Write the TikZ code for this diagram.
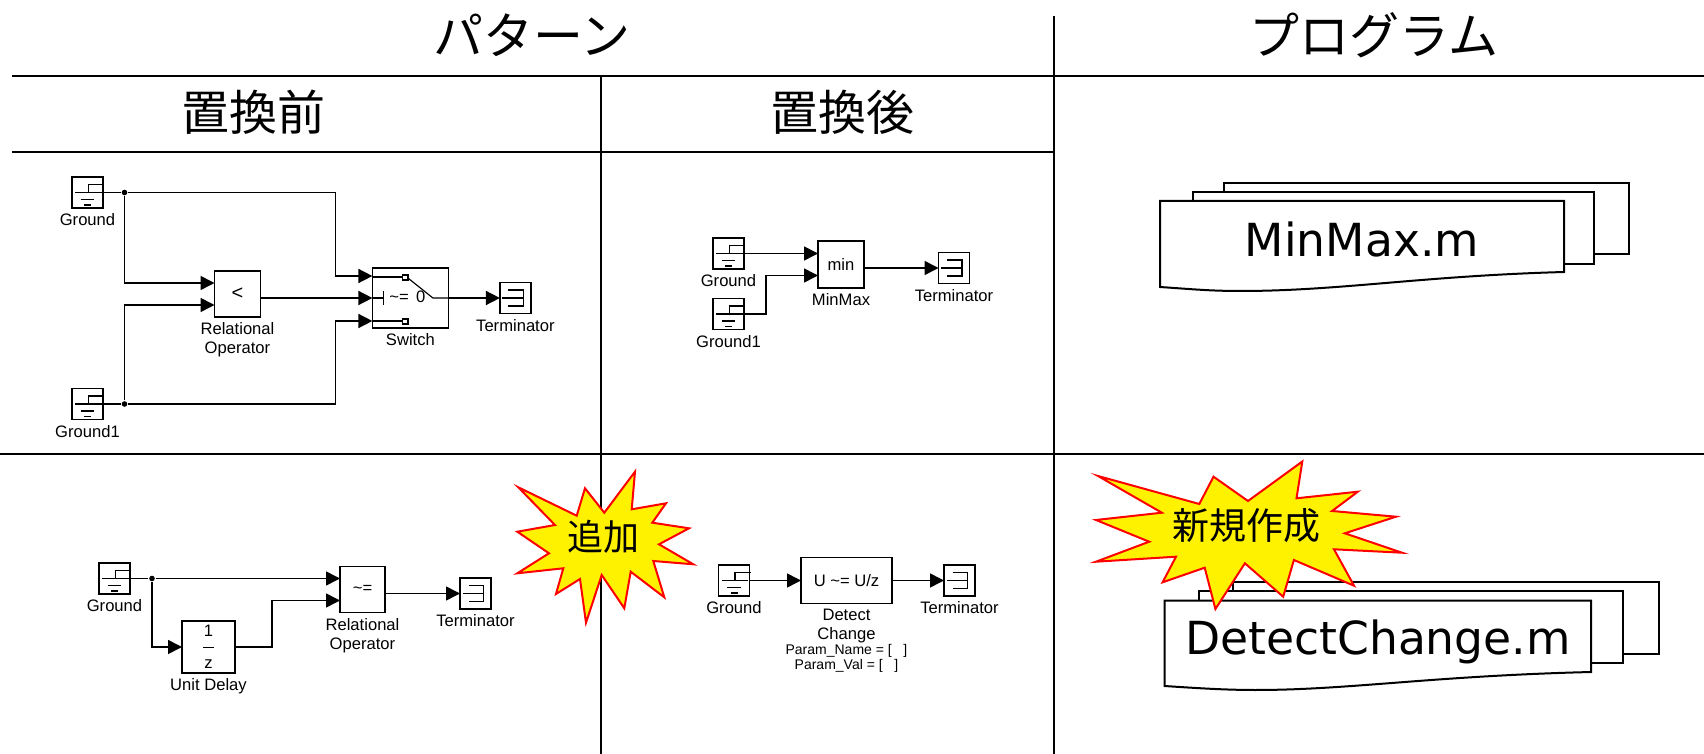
\documentclass[tikz,border=0pt]{standalone}
\usepackage{fontspec}
\setmainfont{Liberation Sans}
\newfontfamily\cjk{Noto Sans CJK JP}
\newfontfamily\docfont{DejaVu Sans}
\usetikzlibrary{arrows.meta,positioning}

\begin{document}
\begin{tikzpicture}[->,
            >={Triangle[length=7pt,width=7pt]},
            x=0.5pt,
            y=-0.5pt,
            line width=0.8pt,
            wire/.style={-},
            gridline/.style={-,line width=1pt},
            fine/.style={-,line width=0.6pt},
            lbl/.style={font=\fontsize{8.3}{9.4}\selectfont,align=center,inner sep=0pt,label distance=2.5pt},
            blockbox/.style 2 args={draw,outer sep=0pt,inner sep=0pt,align=center,
                                    minimum width=#1,minimum height=#2,
                                    font=\fontsize{8.3}{9.4}\selectfont},
            gndbox/.style={blockbox={15.5pt}{15.5pt}},
            termbox/.style={blockbox={15.5pt}{15.5pt}},
            dot/.style={circle,fill=black,inner sep=0pt,minimum size=2.8pt},
            head/.style={font=\cjk\fontsize{24}{28}\selectfont},
            kana/.style={font=\cjk\fontsize{25}{28}\selectfont},
            sheet/.style={-,draw=black,fill=white,line width=1pt},
            burst/.style={-,draw=red,fill=yellow,line width=1pt},
            docname/.style={anchor=base,inner sep=0pt,font=\docfont\fontsize{22.8}{28}\selectfont},
            gndmark/.pic={
                \draw[fine] (16.5,-8) -- (1,-8) -- (1,0);
                \draw[fine] (-12.5,0) -- (14,0);
                \draw[fine] (-7,7) -- (6.5,7);
                \draw[fine] (-3.5,12.5) -- (3.5,12.5);
            },
            termmark/.pic={
                \draw[fine] (-7,-8) -- (8,-8) -- (8,8) -- (-7,8);
                \draw[fine] (-13,0) -- (8,0);
            },
            switchmark/.pic={
                \draw[fine] (-37.5,-21) -- (-8,-21);
                \draw[fine] (-37.5,23) -- (-8,23);
                \draw[fine] (-37.5,0) -- (-26.8,0);
                \draw[fine] (-26.8,-7) -- (-26.8,7);
                \draw[fine] (-2.5,-20) -- (22.5,0) -- (38,0);
                \draw[fine,fill=white] (-8,-23) rectangle (-2.5,-18);
                \draw[fine,fill=white] (-8,21) rectangle (-2.5,26);
                \node[inner sep=0pt,font=\fontsize{8.3}{9.4}\selectfont] (cond) at (-3,-1) {\textasciitilde= \,0};
            }]

        \useasboundingbox (0,0) rectangle (1704,754);

        \draw[gridline] (12,76)    -- (1704,76);
        \draw[gridline] (12,152)   -- (1054,152);
        \draw[gridline] (0,454)    -- (1704,454);
        \draw[gridline] (1054,16)  -- (1054,754);
        \draw[gridline] (601,76)   -- (601,754);

        \node[kana] (pattern) at (532,35)   {パターン};
        \node[kana] (program) at (1374,35)  {プログラム};
        \node[head] (before)  at (253,112)  {置換前};
        \node[head] (after)   at (842,112)  {置換後};

        \node[gndbox,label={[lbl]below:Ground}]  (gnda) at (87.5,192.5) {};
        \node[gndbox,label={[lbl]below:Ground1}] (gndb) [node distance=105.75pt,below of=gnda] {};
        \node[dot] (ja) [node distance=18.5pt,right of=gnda] {};
        \node[dot] (jb) [node distance=18.5pt,right of=gndb] {};
        \node[blockbox={23pt}{23pt},font=\fontsize{10}{12}\selectfont,label={[lbl]below:Relational\\Operator}]
            (relop) [node distance=75pt,right of=gnda,yshift=-50.75pt] {<};
        \node[blockbox={38pt}{30pt},label={[lbl]below:Switch}]
            (switch) [node distance=86.45pt,right of=relop,yshift=-2pt] {};
        \node[termbox,label={[lbl]below:Terminator}]
            (terma) [node distance=52.5pt,right of=switch] {};
        \pic at (gnda)   {gndmark};
        \pic at (gndb)   {gndmark};
        \pic at (terma)  {termmark};
        \pic at (switch) {switchmark};

        \coordinate (relopi) at ([yshift=5.5pt]relop.west);
        \coordinate (relopj) at ([yshift=-5.5pt]relop.west);
        \coordinate (switchi) at ([yshift=11pt]switch.west);
        \coordinate (switchj) at ([yshift=-11.5pt]switch.west);

        \draw[wire] (gnda.east) -- (ja);
        \draw[wire] (gndb.east) -- (jb);
        \draw (ja) |- (relopi);
        \draw (jb) |- (relopj);
        \draw (ja) -| ([xshift=-18.5pt]switchi) -- (switchi);
        \draw (jb) -| ([xshift=-18.5pt]switchj) -- (switchj);
        \path (relop.east |- switch) edge (switch.west)
              (switch.east)          edge (terma.west);

        \node[gndbox,label={[lbl]below:Ground}]  (gndc) at (728.5,253.5) {};
        \node[gndbox,label={[lbl]below:Ground1}] (gndd) [node distance=30.25pt,below of=gndc] {};
        \node[blockbox={23pt}{23.5pt},label={[lbl]below:MinMax}]
            (minmax) [node distance=56.25pt,right of=gndc,yshift=-5.5pt] {min};
        \node[termbox,label={[lbl]below:Terminator}]
            (termb) [node distance=56.5pt,right of=minmax,yshift=-1.75pt] {};
        \pic at (gndc)  {gndmark};
        \pic at (gndd)  {gndmark};
        \pic at (termb) {termmark};

        \coordinate (minmaxi) at ([yshift=5.5pt]minmax.west);
        \coordinate (minmaxj) at ([yshift=-5.5pt]minmax.west);

        \draw (gndd.east) -| ([xshift=-26pt]minmaxj) -- (minmaxj);
        \path (gndc.east)            edge (minmaxi)
              (minmax.east |- termb) edge (termb.west);

        \node[gndbox,label={[lbl]below:Ground}] (gnde) at (114.5,578.5) {};
        \node[dot] (jc) [node distance=18.75pt,right of=gnde] {};
        \node[blockbox={26.5pt}{26pt},label={[lbl]below:Unit Delay}]
            (delay) [node distance=47pt,right of=gnde,yshift=-34.25pt]
            {1\\[-1.5pt]\rule[2.5pt]{5.5pt}{0.6pt}\\[-1.5pt]z};
        \node[blockbox={22.5pt}{23pt},label={[lbl]below:Relational\\Operator}]
            (relopb) [node distance=77pt,right of=delay,yshift=28.75pt] {\textasciitilde=};
        \node[termbox,label={[lbl]below:Terminator}]
            (termc) [node distance=56.5pt,right of=relopb,yshift=-2pt] {};
        \pic at (gnde)  {gndmark};
        \pic at (termc) {termmark};

        \coordinate (relopbi) at ([yshift=5.5pt]relopb.west);
        \coordinate (relopbj) at ([yshift=-5.5pt]relopb.west);

        \draw[wire] (gnde.east) -- (jc);
        \draw (jc) |- (delay.west);
        \draw (delay.east) -| ([xshift=-34pt]relopbj) -- (relopbj);
        \path (jc)                   edge (relopbi)
              (relopb.east |- termc) edge (termc.west);

        \node[gndbox,label={[lbl]below:Ground}] (gndf) at (734,580.5) {};
        \node[blockbox={45.5pt}{23pt},label={[lbl]below:Detect\\Change\\[-2pt]{\fontsize{7}{8.5}\selectfont Param\_Name = [\ \ \ ]}\\[-1.8pt]{\fontsize{7}{8.5}\selectfont Param\_Val = [\ \ \ ]}}]
            (detect) [node distance=56.25pt,right of=gndf] {U \textasciitilde= U/z};
        \node[termbox,label={[lbl]below:Terminator}]
            (termd) [node distance=56.5pt,right of=detect] {};
        \pic at (gndf)  {gndmark};
        \pic at (termd) {termmark};

        \path (gndf.east)   edge (detect.west)
              (detect.east) edge (termd.west);

        \draw[sheet] (1224,183) rectangle (1629,254);
        \draw[sheet] (1193,192) rectangle (1594,264);
        \draw[sheet] (1160,201) -- (1564,201) -- (1564,272)
            .. controls (1420,276) and (1340,291) .. (1240,291)
            .. controls (1210,291) and (1190,289) .. (1160,287) -- cycle;
        \node[docname] (minfile) at (1362,257) {MinMax.m};

        \draw[sheet] (1233.4,582) rectangle (1659.3,654);
        \draw[sheet] (1199.3,591) rectangle (1623,663);
        \draw[sheet] (1164.5,600.7) -- (1591.2,600.7) -- (1591.2,672)
            .. controls (1430,676) and (1350,690) .. (1255,690)
            .. controls (1225,690) and (1195,688) .. (1164.5,686) -- cycle;
        \node[docname] (newfile) at (1378,654) {DetectChange.m};

        \draw[burst] (518.3,487.3) -- (576.7,515.7) -- (585,488.3) -- (604.3,512.7)
            -- (635,471.7) -- (631.7,509.3) -- (666,503.3) -- (652.3,522.7)
            -- (689,528.3) -- (659,544.3) -- (693.3,564.3) -- (653.3,561)
            -- (664.3,597.3) -- (630.7,571.7) -- (624.3,608.3) -- (601.7,575)
            -- (586,622.7) -- (580,579) -- (556,594) -- (563.3,568.3)
            -- (517.3,573.3) -- (549,553.3) -- (517.3,531.7) -- (555,525) -- cycle;
        \node[font=\cjk\fontsize{18}{22}\selectfont] (added) at (603,537) {追加};

        \draw[burst] (1098,476) -- (1199.3,504) -- (1213.5,476.7) -- (1248,501)
            -- (1302.3,461.5) -- (1296.5,498.3) -- (1357.8,491.7) -- (1332.1,511)
            -- (1396,516.7) -- (1344.8,533.3) -- (1402,552.7) -- (1334,549.3)
            -- (1354,585.7) -- (1293.9,560) -- (1283.2,596.7) -- (1244.9,563.3)
            -- (1215.4,609) -- (1204.7,567.7) -- (1162.6,582.3) -- (1176,556.7)
            -- (1096,561.7) -- (1149.2,541.7) -- (1096,520) -- (1161.8,512.7) -- cycle;
        \node[font=\cjk\fontsize{18.5}{22}\selectfont] (created) at (1246,526) {新規作成};

    \end{tikzpicture}
\end{document}
